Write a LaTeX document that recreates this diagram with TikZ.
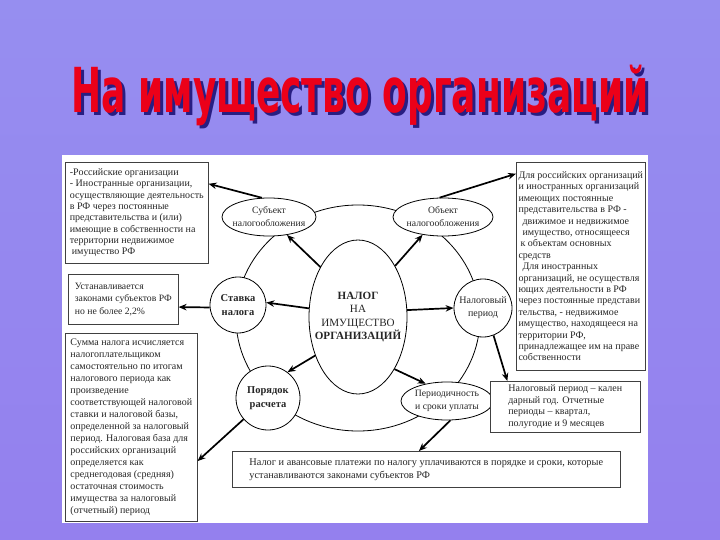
\documentclass[tikz,border=0pt]{standalone}
\usepackage{graphicx}
\usepackage{fontspec}
\setmainfont{Liberation Serif}
\newfontfamily\titlefont{DejaVu Sans}
\usetikzlibrary{shapes.geometric,arrows.meta}

\definecolor{bgtop}{RGB}{150,142,240}
\definecolor{bgmid}{RGB}{184,190,250}
\definecolor{bgbot}{RGB}{148,128,238}
\definecolor{titlered}{RGB}{235,0,25}
\definecolor{titleshade}{RGB}{40,30,130}

\tikzset{
  titlestyle/.style={font=\titlefont\bfseries\fontsize{62}{62}\selectfont, inner sep=0pt, anchor=base},
  infobox/.style={draw=black!75, line width=0.6pt, fill=white, inner xsep=2pt, inner ysep=3pt, align=left,
    anchor=north west, text=black!85, font=\fontsize{10}{11.3}\selectfont},
  oval/.style={ellipse, draw, line width=0.8pt, fill=white, inner sep=-15pt, align=center,
    text=black!85, font=\fontsize{9.7}{13}\selectfont},
  ball/.style={circle, draw, line width=0.8pt, fill=white, inner sep=-15pt, align=center,
    text=black!85, font=\fontsize{10}{13}\selectfont},
  thickarr/.style={-{Stealth[length=8pt,width=6.5pt]}, line width=1.7pt},
}

\begin{document}
\begin{tikzpicture}[x=1pt, y=-1pt]
% Backdrop and scanned sheet
\useasboundingbox (0,0) rectangle (720,540);
\shade[top color=bgtop, middle color=bgmid, bottom color=bgbot] (0,0) rectangle (720,540);
\fill[white] (62,155) rectangle (648,523);

% Title with its shadow
\def\titletext{\scalebox{0.58}[1]{На имущество организаций}}
\node[titlestyle, text=titlered] (title) at (360,113)
  {\makebox[0pt][l]{\hspace*{3pt}\raisebox{-3pt}{\textcolor{titleshade}{\titletext}}}\titletext};

% Ring through the satellites
\node[ellipse, draw, line width=0.8pt, minimum width=244pt, minimum height=226pt, inner sep=-30pt] (ring) at (358,318) {};

% Central oval
\node[oval, minimum width=98pt, minimum height=154pt, inner sep=-30pt, font=\fontsize{11.1}{13.6}\selectfont] (tax) at (358,317)
  {\textbf{НАЛОГ}\\НА\\ИМУЩЕСТВО\\\textbf{ОРГАНИЗАЦИЙ}};

% Satellites
\node[oval, minimum width=94pt, minimum height=38pt] (subj) at (269,217) {Субъект\\налогообложения};
\node[oval, minimum width=100pt, minimum height=38pt] (obj) at (443,217) {Объект\\налогообложения};
\node[ball, minimum size=56pt, font=\bfseries\fontsize{10.5}{13.5}\selectfont] (rate) at (238,305) {Ставка\\налога};
\node[ball, minimum size=58pt] (period) at (483,308) {Налоговый\\период};
\node[ball, minimum size=64pt, font=\bfseries\fontsize{10.5}{14}\selectfont] (calc) at (268,398) {Порядок\\расчета};
\node[oval, minimum width=92pt, minimum height=38pt] (terms) at (447,401) {Периодичность\\и сроки уплаты};

% Text boxes
\node[infobox, minimum width=143pt, minimum height=101pt] (payers) at (65,162)
  {-Российские организации\\
   - Иностранные организации,\\
   осуществляющие деятельность\\
   в РФ через постоянные\\
   представительства и (или)\\
   имеющие в собственности на\\
   территории недвижимое\\
   \hspace*{2pt}имущество РФ};
\node[infobox, minimum width=110pt, minimum height=50pt, font=\fontsize{9.7}{12.5}\selectfont] (ratebox) at (68,274)
  {Устанавливается\\
   законами субъектов РФ\\
   но не более 2,2\%};
\node[infobox, minimum width=132pt, minimum height=188pt, font=\fontsize{10}{12}\selectfont] (calcbox) at (65,333)
  {Сумма налога исчисляется\\
   налогоплательщиком\\
   самостоятельно по итогам\\
   налогового периода как\\
   произведение\\
   соответствующей налоговой\\
   ставки и налоговой базы,\\
   определенной за налоговый\\
   период. Налоговая база для\\
   российских организаций\\
   определяется как\\
   среднегодовая (средняя)\\
   остаточная стоимость\\
   имущества за налоговый\\
   (отчетный) период};
\node[infobox, minimum width=129pt, minimum height=208pt, font=\fontsize{10}{11.4}\selectfont] (objects) at (516,162)
  {Для российских организаций\\
   и иностранных организаций\\
   имеющих постоянные\\
   представительства в РФ -\\
   \hspace*{4pt}движимое и недвижимое\\
   \hspace*{4pt}имущество, относящееся\\
   \hspace*{2pt}к объектам основных\\
   средств\\
   \hspace*{4pt}Для иностранных\\
   организаций, не осуществля\\
   ющих деятельности в РФ\\
   через постоянные представи\\
   тельства, - недвижимое\\
   имущество, находящееся на\\
   территории РФ,\\
   принадлежащее им на праве\\
   собственности};
\node[infobox, minimum width=150pt, minimum height=51pt, font=\fontsize{10}{11.5}\selectfont] (periodbox) at (490,381)
  {Налоговый период – кален\\
   дарный год. Отчетные\\
   периоды – квартал,\\
   полугодие и 9 месяцев};
\node[infobox, minimum width=388pt, minimum height=36pt, inner xsep=5pt, font=\fontsize{10.3}{13}\selectfont] (termsbox) at (232,451)
  {Налог и авансовые платежи по налогу уплачиваются в порядке и сроки, которые\\
   устанавливаются законами субъектов РФ\hspace*{160pt}};

% Arrows from the centre
\draw[thickarr] (tax.127) -- (subj.-45);
\draw[thickarr] (tax.54) -- (obj.-139);
\draw[thickarr] (tax.170) -- (rate.5);
\draw[thickarr] (tax.8) -- (period.180);
\draw[thickarr] (tax.-138) -- (calc.53);
\draw[thickarr] (tax.-55) -- (terms.141);

% Arrows to the boxes
\draw[thickarr] (subj.110) -- (payers.22);
\draw[thickarr] (obj.100) -- (objects.125.6);
\draw[thickarr] (rate.185) -- (ratebox.-8);
\draw[thickarr] (period.-69) -- (periodbox.156);
\draw[thickarr] (calc.-139) -- (calcbox.-27);
\draw[thickarr] (terms.-80) -- (termsbox.112);
\end{tikzpicture}
\end{document}
